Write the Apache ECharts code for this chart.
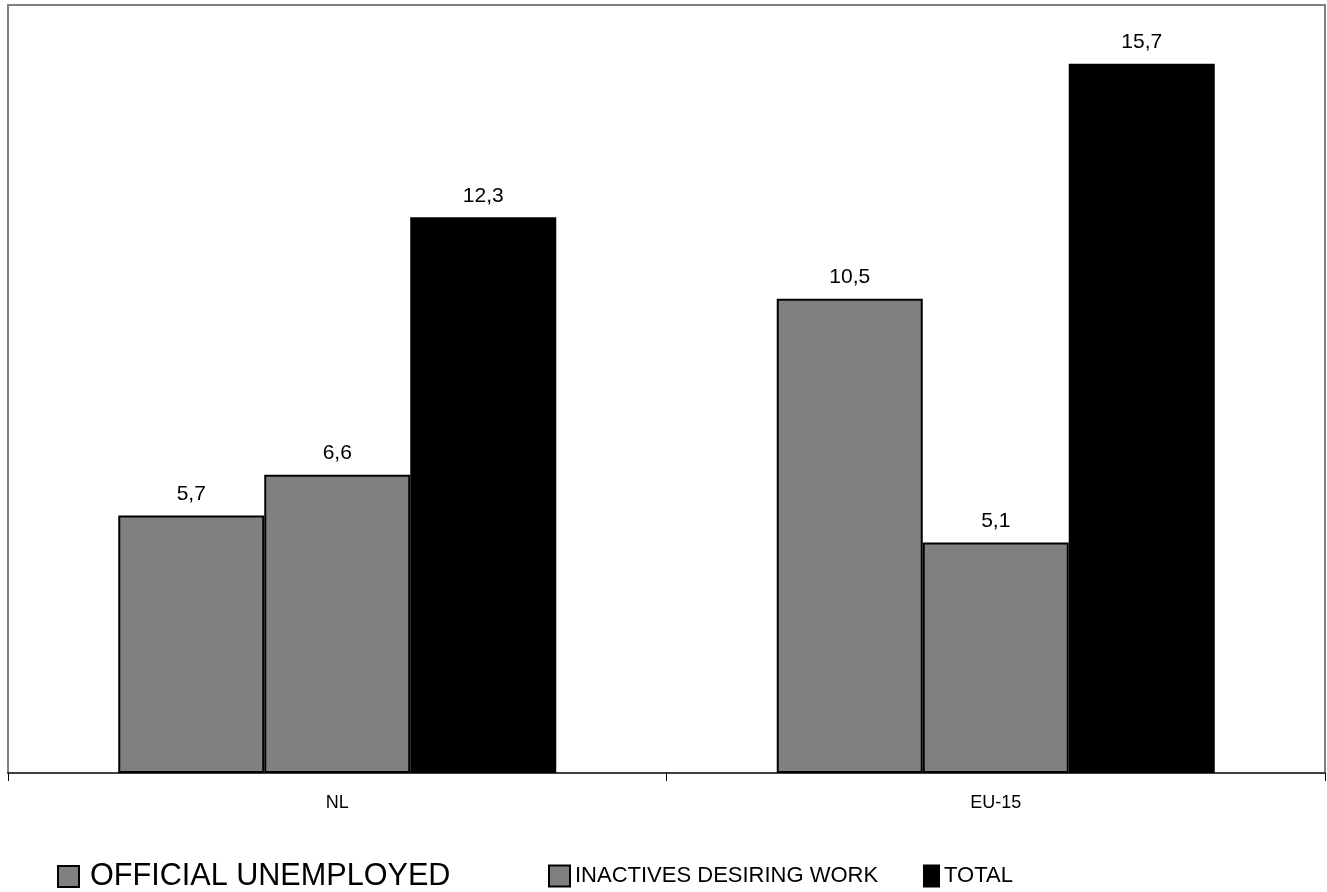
<!DOCTYPE html>
<html>
<head>
<meta charset="utf-8">
<script src="https://cdn.jsdelivr.net/npm/echarts@6/dist/echarts.min.js"></script>
<style>
  html, body { margin: 0; padding: 0; background: #fff; }
  #chart { width: 1327px; height: 892px; }
</style>
</head>
<body>
<div id="chart"></div>
<script>
// data
var categories = ['NL', 'EU-15'];
var officialUnemployed = [5.7, 10.5];
var inactivesDesiringWork = [6.6, 5.1];
var total = [12.3, 15.7];

var chart = echarts.init(document.getElementById('chart'));

var font = 'Liberation Sans, Arial, sans-serif';

var labelStyle = {
  show: true,
  position: 'top',
  distance: 11,
  fontFamily: font,
  fontSize: 21,
  color: '#000',
  formatter: function (p) { return String(p.value).replace('.', ','); }
};

var legendBase = {
  top: 856,
  itemHeight: 21,
  icon: 'rect'
};

chart.setOption({
  animation: false,
  grid: {
    left: 8,
    right: 2,
    top: 5,
    bottom: 119,
    show: true,
    borderColor: '#808080',
    borderWidth: 2,
    backgroundColor: '#fff'
  },
  legend: [
    Object.assign({}, legendBase, {
      left: 52,
      itemWidth: 21,
      data: ['OFFICIAL UNEMPLOYED'],
      textStyle: { color: '#000', fontSize: 30.6, lineHeight: 30, fontFamily: font, padding: [0, 0, 0, 6] }
    }),
    Object.assign({}, legendBase, {
      left: 543,
      itemWidth: 21,
      data: ['INACTIVES DESIRING WORK'],
      textStyle: { color: '#000', fontSize: 22, lineHeight: 30, fontFamily: font }
    }),
    Object.assign({}, legendBase, {
      left: 918,
      itemWidth: 15,
      data: ['TOTAL'],
      textStyle: { color: '#000', fontSize: 22, lineHeight: 30, fontFamily: font }
    })
  ],
  xAxis: {
    type: 'category',
    data: categories,
    axisLine: { lineStyle: { color: '#404040', width: 2 } },
    axisTick: { show: true, length: 8, lineStyle: { color: '#000' } },
    axisLabel: {
      margin: 21,
      fontSize: 18,
      fontFamily: font,
      color: '#000'
    }
  },
  yAxis: {
    type: 'value',
    min: 0,
    max: 17,
    show: false,
    splitLine: { show: false }
  },
  series: [
    {
      name: 'OFFICIAL UNEMPLOYED',
      type: 'bar',
      data: officialUnemployed,
      barWidth: 146,
      barGap: '0%',
      itemStyle: { color: '#808080', borderColor: '#000', borderWidth: 2 },
      label: labelStyle
    },
    {
      name: 'INACTIVES DESIRING WORK',
      type: 'bar',
      data: inactivesDesiringWork,
      barWidth: 146,
      barGap: '0%',
      itemStyle: { color: '#808080', borderColor: '#000', borderWidth: 2 },
      label: labelStyle
    },
    {
      name: 'TOTAL',
      type: 'bar',
      data: total,
      barWidth: 146,
      barGap: '0%',
      itemStyle: { color: '#000', borderColor: '#000', borderWidth: 2 },
      label: labelStyle
    }
  ]
});
</script>
</body>
</html>
